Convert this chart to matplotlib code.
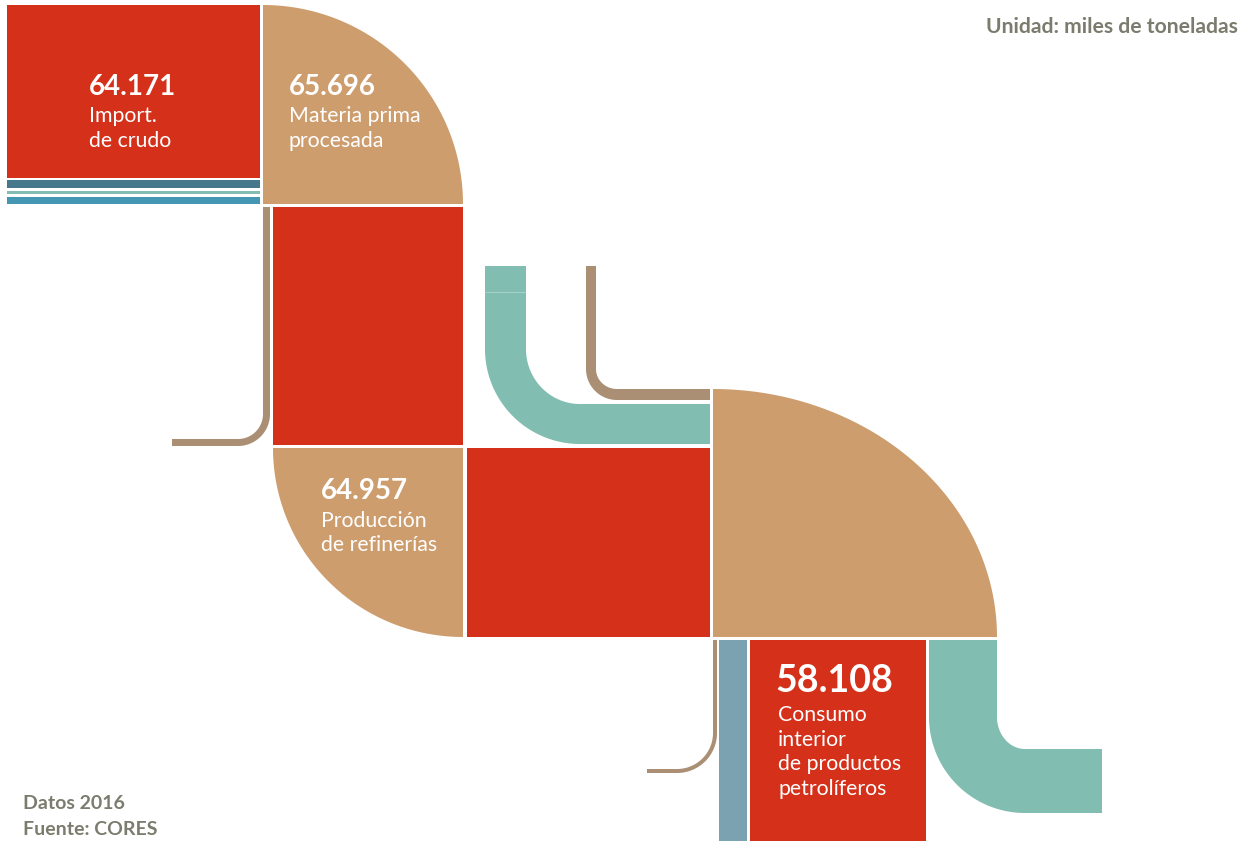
import numpy as np
import matplotlib
matplotlib.use("Agg")
import matplotlib.pyplot as plt
from matplotlib.patches import Polygon, Rectangle

# ---- data ----
labels = ["Import.\nde crudo", "Materia prima\nprocesada", "Producción\nde refinerías",
          "Consumo\ninterior\nde productos\npetrolíferos"]
values = ["64.171", "65.696", "64.957", "58.108"]
unit_text = "Unidad: miles de toneladas"
source_lines = ["Datos 2016", "Fuente: CORES"]

# ---- colours ----
RED = "#d4301a"
TAN = "#cd9d6e"
BROWN = "#ab8f74"
TEAL = "#82bdb2"
DTEAL = "#44788a"
BLUE = "#4596b2"
BGRAY = "#7aa2b0"
GRAY = "#7b7b6e"

W, H = 1251, 855
fig = plt.figure(figsize=(W / 100, H / 100), dpi=100)
ax = fig.add_axes([0, 0, 1, 1])
ax.set_xlim(0, W)
ax.set_ylim(H, 0)
ax.axis("off")


def rect(x0, y0, x1, y1, c):
    ax.add_patch(Rectangle((x0, y0), x1 - x0, y1 - y0, facecolor=c, edgecolor="none"))


def quarter(cx, cy, rx, ry, a0, a1, c):
    t = np.radians(np.linspace(a0, a1, 120))
    pts = [(cx, cy)] + list(zip(cx + rx * np.cos(t), cy + ry * np.sin(t)))
    ax.add_patch(Polygon(pts, closed=True, facecolor=c, edgecolor="none"))


def elbow_right(x0, x1, ytop, y0, y1, xend, R, c):
    cx, cy = x0 + R, y1 - R
    rx, ry = cx - x1, y0 - cy
    t = np.radians(np.linspace(180, 90, 60))
    outer = list(zip(cx + R * np.cos(t), cy + R * np.sin(t)))
    ti = np.radians(np.linspace(90, 180, 60))
    inner = list(zip(cx + rx * np.cos(ti), cy + ry * np.sin(ti)))
    pts = [(x0, ytop), (x0, cy)] + outer + [(xend, y1), (xend, y0), (cx, y0)] + inner + [(x1, cy), (x1, ytop)]
    ax.add_patch(Polygon(pts, closed=True, facecolor=c, edgecolor="none"))


def elbow_left(x0, x1, ytop, y0, y1, xend, R, c):
    cx, cy = x1 - R, y1 - R
    rx, ry = x0 - cx, y0 - cy
    t = np.radians(np.linspace(0, 90, 60))
    outer = list(zip(cx + R * np.cos(t), cy + R * np.sin(t)))
    ti = np.radians(np.linspace(90, 0, 60))
    inner = list(zip(cx + rx * np.cos(ti), cy + ry * np.sin(ti)))
    pts = [(x1, ytop), (x1, cy)] + outer + [(xend, y1), (xend, y0), (cx, y0)] + inner + [(x0, cy), (x0, ytop)]
    ax.add_patch(Polygon(pts, closed=True, facecolor=c, edgecolor="none"))


# top-left block
rect(7, 5, 260, 178, RED)
rect(7, 180, 260, 188, DTEAL)
rect(7, 191, 260, 194, TEAL)
rect(7, 197, 260, 204, BLUE)
quarter(263, 204, 200, 199, -90, 0, TAN)

# second column
elbow_left(263, 270, 207, 439, 446, 172, 32, BROWN)
rect(273, 207, 463, 445, RED)
quarter(463, 448, 190, 189, 90, 180, TAN)
rect(467, 448, 710, 637, RED)

# middle elbows
elbow_right(485, 526, 266, 404, 444, 710, 95, TEAL)
ax.plot([485, 526], [292, 292], color="white", lw=0.6, alpha=0.35)
elbow_right(586, 596, 266, 389, 400, 710, 31, BROWN)

# big quarter
quarter(713, 637, 284, 248, -90, 0, TAN)

# bottom row
elbow_left(713, 717, 640, 769, 773, 647, 40, BROWN)
rect(719, 640, 747, 841, BGRAY)
rect(750, 640, 926, 841, RED)
elbow_right(929, 997, 640, 749, 813, 1102, 96, TEAL)

# ---- labels ----
FONT = "Lato"
num_pos = [(89, 95), (289, 95), (321, 499), (775, 692)]
num_size = [20, 20, 20, 27]
lab_pos = [(89, 122), (289, 122), (321, 527), (778, 721)]
lab_step = [25, 25, 24, 24.5]
for v, l, (nx, ny), ns, (lx, ly), st in zip(values, labels, num_pos, num_size, lab_pos, lab_step):
    ax.text(nx, ny, v, color="white", fontsize=ns, fontweight="bold", family=FONT,
            ha="left", va="baseline")
    for i, line in enumerate(l.split("\n")):
        ax.text(lx, ly + i * st, line, color="white", fontsize=15.3, family=FONT,
                ha="left", va="baseline")

ax.text(1238, 33, unit_text, color=GRAY, fontsize=15.2, fontweight="bold", family=FONT,
        ha="right", va="baseline")
for i, s in enumerate(source_lines):
    ax.text(23, 809 + i * 26, s, color=GRAY, fontsize=14, fontweight="bold", family=FONT,
            ha="left", va="baseline")

fig.savefig("out.png", dpi=100)
